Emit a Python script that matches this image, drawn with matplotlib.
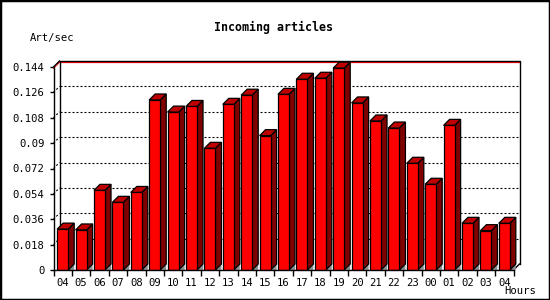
import matplotlib
matplotlib.use('Agg')
import matplotlib.pyplot as plt
from matplotlib.patches import Polygon, Rectangle
import matplotlib.transforms as mtransforms

hours = ['04', '05', '06', '07', '08', '09', '10', '11', '12', '13', '14', '15',
         '16', '17', '18', '19', '20', '21', '22', '23', '00', '01', '02', '03', '04']
values = [0.029, 0.0284, 0.0565, 0.048, 0.055, 0.1206, 0.112, 0.116, 0.0863,
          0.1175, 0.124, 0.0953, 0.1246, 0.1353, 0.136, 0.1432, 0.1185, 0.1057,
          0.1007, 0.0757, 0.0608, 0.1026, 0.0331, 0.0279, 0.0331]
yticks = [0, 0.018, 0.036, 0.054, 0.072, 0.09, 0.108, 0.126, 0.144]
ytick_labels = ['0', '0.018', '0.036', '0.054', '0.072', '0.09', '0.108', '0.126', '0.144']

plt.rcParams['font.family'] = 'DejaVu Sans Mono'
plt.rcParams['lines.scale_dashes'] = False

W, H = 550, 300
fig = plt.figure(figsize=(W / 100, H / 100), dpi=100)
fig.patch.set_facecolor('white')
ax = fig.add_axes([53.5 / W, 30 / H, 460 / W, 203 / H])
ax.set_xlim(-0.5, 24.5)
ax.set_ylim(0, 0.144)
ax.patch.set_visible(False)
for s in ['top', 'right']:
    ax.spines[s].set_visible(False)
for s in ['left', 'bottom']:
    ax.spines[s].set_linewidth(1.0)
    ax.spines[s].set_zorder(6)

DEPTH = 6  # pixels
back = ax.transData + mtransforms.ScaledTranslation(DEPTH / 100, DEPTH / 100, fig.dpi_scale_trans)
p0 = ax.transData.transform((0, 0))
d = ax.transData.inverted().transform(p0 + [DEPTH, DEPTH])
dx, dy = d[0], d[1]

x0, x1 = -0.5, 24.5
ytop = yticks[-1]
dotted = (0, (1.44, 1.44))

# back wall grid
for v in yticks[1:-1]:
    ax.plot([x0, x1], [v, v], transform=back, color='k', lw=0.8, ls=dotted, clip_on=False, zorder=1)
    ax.plot([x0, x0 + dx], [v, v + dy], color='k', lw=0.8, ls=dotted, clip_on=False, zorder=1)

# max line
m = max(values)
ax.plot([x0, x1], [m, m], transform=back, color='#FF0000', lw=0.9, clip_on=False, zorder=2)
ax.plot([x0, x0 + dx], [m, m + dy], color='#FF0000', lw=0.9, clip_on=False, zorder=2)

# back wall frame
ax.plot([x0, x0, x1, x1], [0, ytop, ytop, 0], transform=back, color='k', lw=1.0, clip_on=False, zorder=2)
ax.plot([x0, x0 + dx], [ytop, ytop + dy], color='k', lw=1.0, clip_on=False, zorder=2)
ax.plot([x1, x1 + dx], [0, dy], color='k', lw=1.0, clip_on=False, zorder=2)

# bars
bw = 0.6
for i, v in enumerate(values):
    l, r = i - bw / 2, i + bw / 2
    ax.add_patch(Polygon([(r, 0), (r + dx, dy), (r + dx, 0)], closed=True,
                         facecolor='#909090', edgecolor='none', zorder=3, clip_on=False))
    ax.add_patch(Polygon([(r, 0), (r, v), (r + dx, v + dy), (r + dx, dy)], closed=True,
                         facecolor='#800000', edgecolor='k', lw=0.9, zorder=3, clip_on=False))
    ax.add_patch(Polygon([(l, v), (r, v), (r + dx, v + dy), (l + dx, v + dy)], closed=True,
                         facecolor='#C00000', edgecolor='k', lw=0.9, zorder=3, clip_on=False))
    ax.bar(i, v, width=bw, color='#FF0000', edgecolor='k', lw=0.9, zorder=4)

# ticks
ax.set_xticks(range(len(hours)))
ax.set_xticklabels(hours, fontsize=7.6)
ax.set_xticks([k - 0.5 for k in range(len(hours) + 1)], minor=True)
ax.tick_params(axis='x', which='major', length=0, pad=6)
ax.tick_params(axis='x', which='minor', length=4, width=1, direction='out')
ax.set_yticks(yticks)
ax.set_yticklabels(ytick_labels, fontsize=7.6)
ax.tick_params(axis='y', which='major', length=3, width=1, pad=3.5)

fig.text(274 / W, 1 - 27.5 / H, 'Incoming articles', ha='center', va='center',
         fontsize=8.4, fontweight='bold')
fig.text(30 / W, 1 - 37.5 / H, 'Art/sec', ha='left', va='center', fontsize=7.6)
fig.text(504 / W, 1 - 291.5 / H, 'Hours', ha='left', va='center', fontsize=7.6)

fig.patches.append(Rectangle((0, 0), 1, 1, transform=fig.transFigure, fill=False,
                             edgecolor='k', lw=2.5))

fig.savefig('out.png', dpi=100)
